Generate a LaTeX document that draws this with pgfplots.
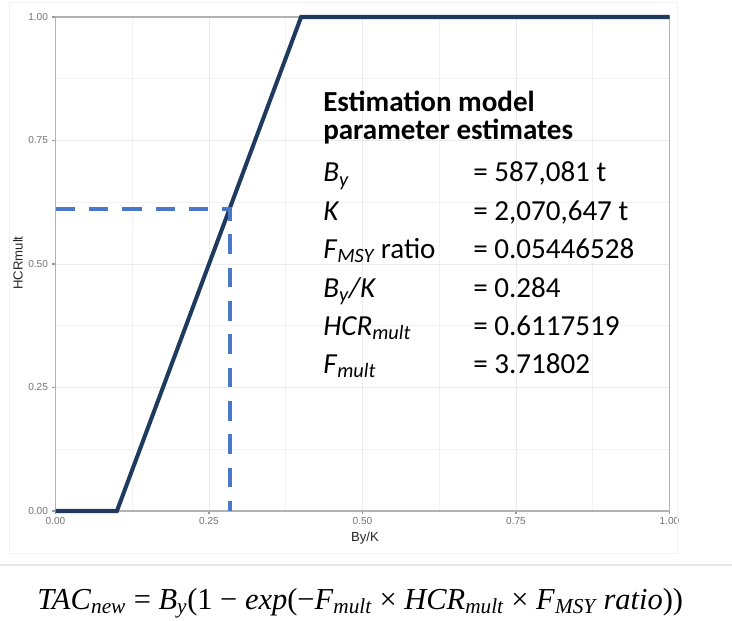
\documentclass[border=0pt]{standalone}
\usepackage{fontspec}
\setmainfont{Carlito}
\newfontfamily\arial{Liberation Sans}
\newfontfamily\eqfont{Liberation Serif}
\usepackage{pgfplots}
\pgfplotsset{compat=1.18}
\definecolor{hcrnavy}{HTML}{1F3A5F}
\definecolor{hcrblue}{HTML}{4A78C8}
\newcommand{\sub}[1]{\textsubscript{\itshape #1}}
\begin{document}
\begin{tikzpicture}
\begin{axis}[
  at={(39.96bp,-12.24bp)}, anchor=north west,
  scale only axis, width=442.08bp, height=355.68bp,
  xmin=0, xmax=1, ymin=0, ymax=1,
  clip=false,
  axis line style={black!30, line width=1.4bp},
  xtick={0,0.25,0.5,0.75,1}, ytick={0,0.25,0.5,0.75,1},
  minor xtick={0.125,0.375,0.625,0.875},
  minor ytick={0.125,0.375,0.625,0.875},
  grid=both,
  major grid style={black!8, line width=0.7bp},
  minor grid style={black!5, line width=0.6bp},
  tick pos=left,
  tick align=outside, major tick length=2.4bp, minor tick length=0pt,
  tick style={black!40, line width=0.8bp},
  /pgf/number format/assume math mode=true,
  xticklabel={\pgfmathprintnumber[fixed,fixed zerofill,precision=2]{\tick}},
  yticklabel={\pgfmathprintnumber[fixed,fixed zerofill,precision=2]{\tick}},
  ticklabel style={font=\fontsize{7.3}{8}\arial, text=black!55},
  xticklabel style={yshift=1bp},
  yticklabel style={xshift=0.5bp},
]
% harvest control rule
\addplot[hcrnavy, line width=2.9bp] coordinates {(0,0) (0.1,0) (0.4,1) (1,1)};
% current estimate
\addplot[hcrblue, line width=2.9bp, dash pattern=on 14bp off 10bp]
  coordinates {(0,0.6117519) (0.284,0.6117519) (0.284,0)};
\end{axis}
\begin{scope}[x=0.72bp, y=-0.72bp]
\draw[black!5, line width=0.7bp] (9,2) rectangle (677,553);
\draw[black!9, line width=1.5bp] (0,565) -- (732,565);
\node[font=\fontsize{9.5}{10}\arial, text=black!85] at (365,538) {By/K};
\node[font=\fontsize{9.5}{10}\arial, text=black!85, rotate=90] at (18,263) {HCRmult};
\begin{scope}[every node/.style={inner sep=0pt, anchor=base west,
    font=\fontsize{21}{24}\selectfont}]
\node at (323,112) {\textbf{Estimation model}};
\node at (323,140) {\textbf{parameter estimates}};
\node at (323,182) {\textit{B}\sub{y}};
\node at (473,182) {= 587,081 t};
\node at (323,220) {\textit{K}};
\node at (473,220) {= 2,070,647 t};
\node at (323,258) {\textit{F}\sub{MSY} ratio};
\node at (473,258) {= 0.05446528};
\node at (323,297) {\textit{B}\sub{y}\textit{/K}};
\node at (473,297) {= 0.284};
\node at (323,335) {\textit{HCR}\sub{mult}};
\node at (473,335) {= 0.6117519};
\node at (323,373) {\textit{F}\sub{mult}};
\node at (473,373) {= 3.71802};
\end{scope}
\node[inner sep=0pt, anchor=base west, font=\fontsize{22}{24}\eqfont] at (37,609)
  {\textit{TAC}\sub{new} = \textit{B}\sub{y}(1 − \textit{exp}(−\textit{F}\sub{mult}
   × \textit{HCR}\sub{mult} × \textit{F}\sub{MSY} \textit{ratio}))};
\pgfresetboundingbox
\path (0,0) rectangle (732,621);
\end{scope}
\end{tikzpicture}
\end{document}
